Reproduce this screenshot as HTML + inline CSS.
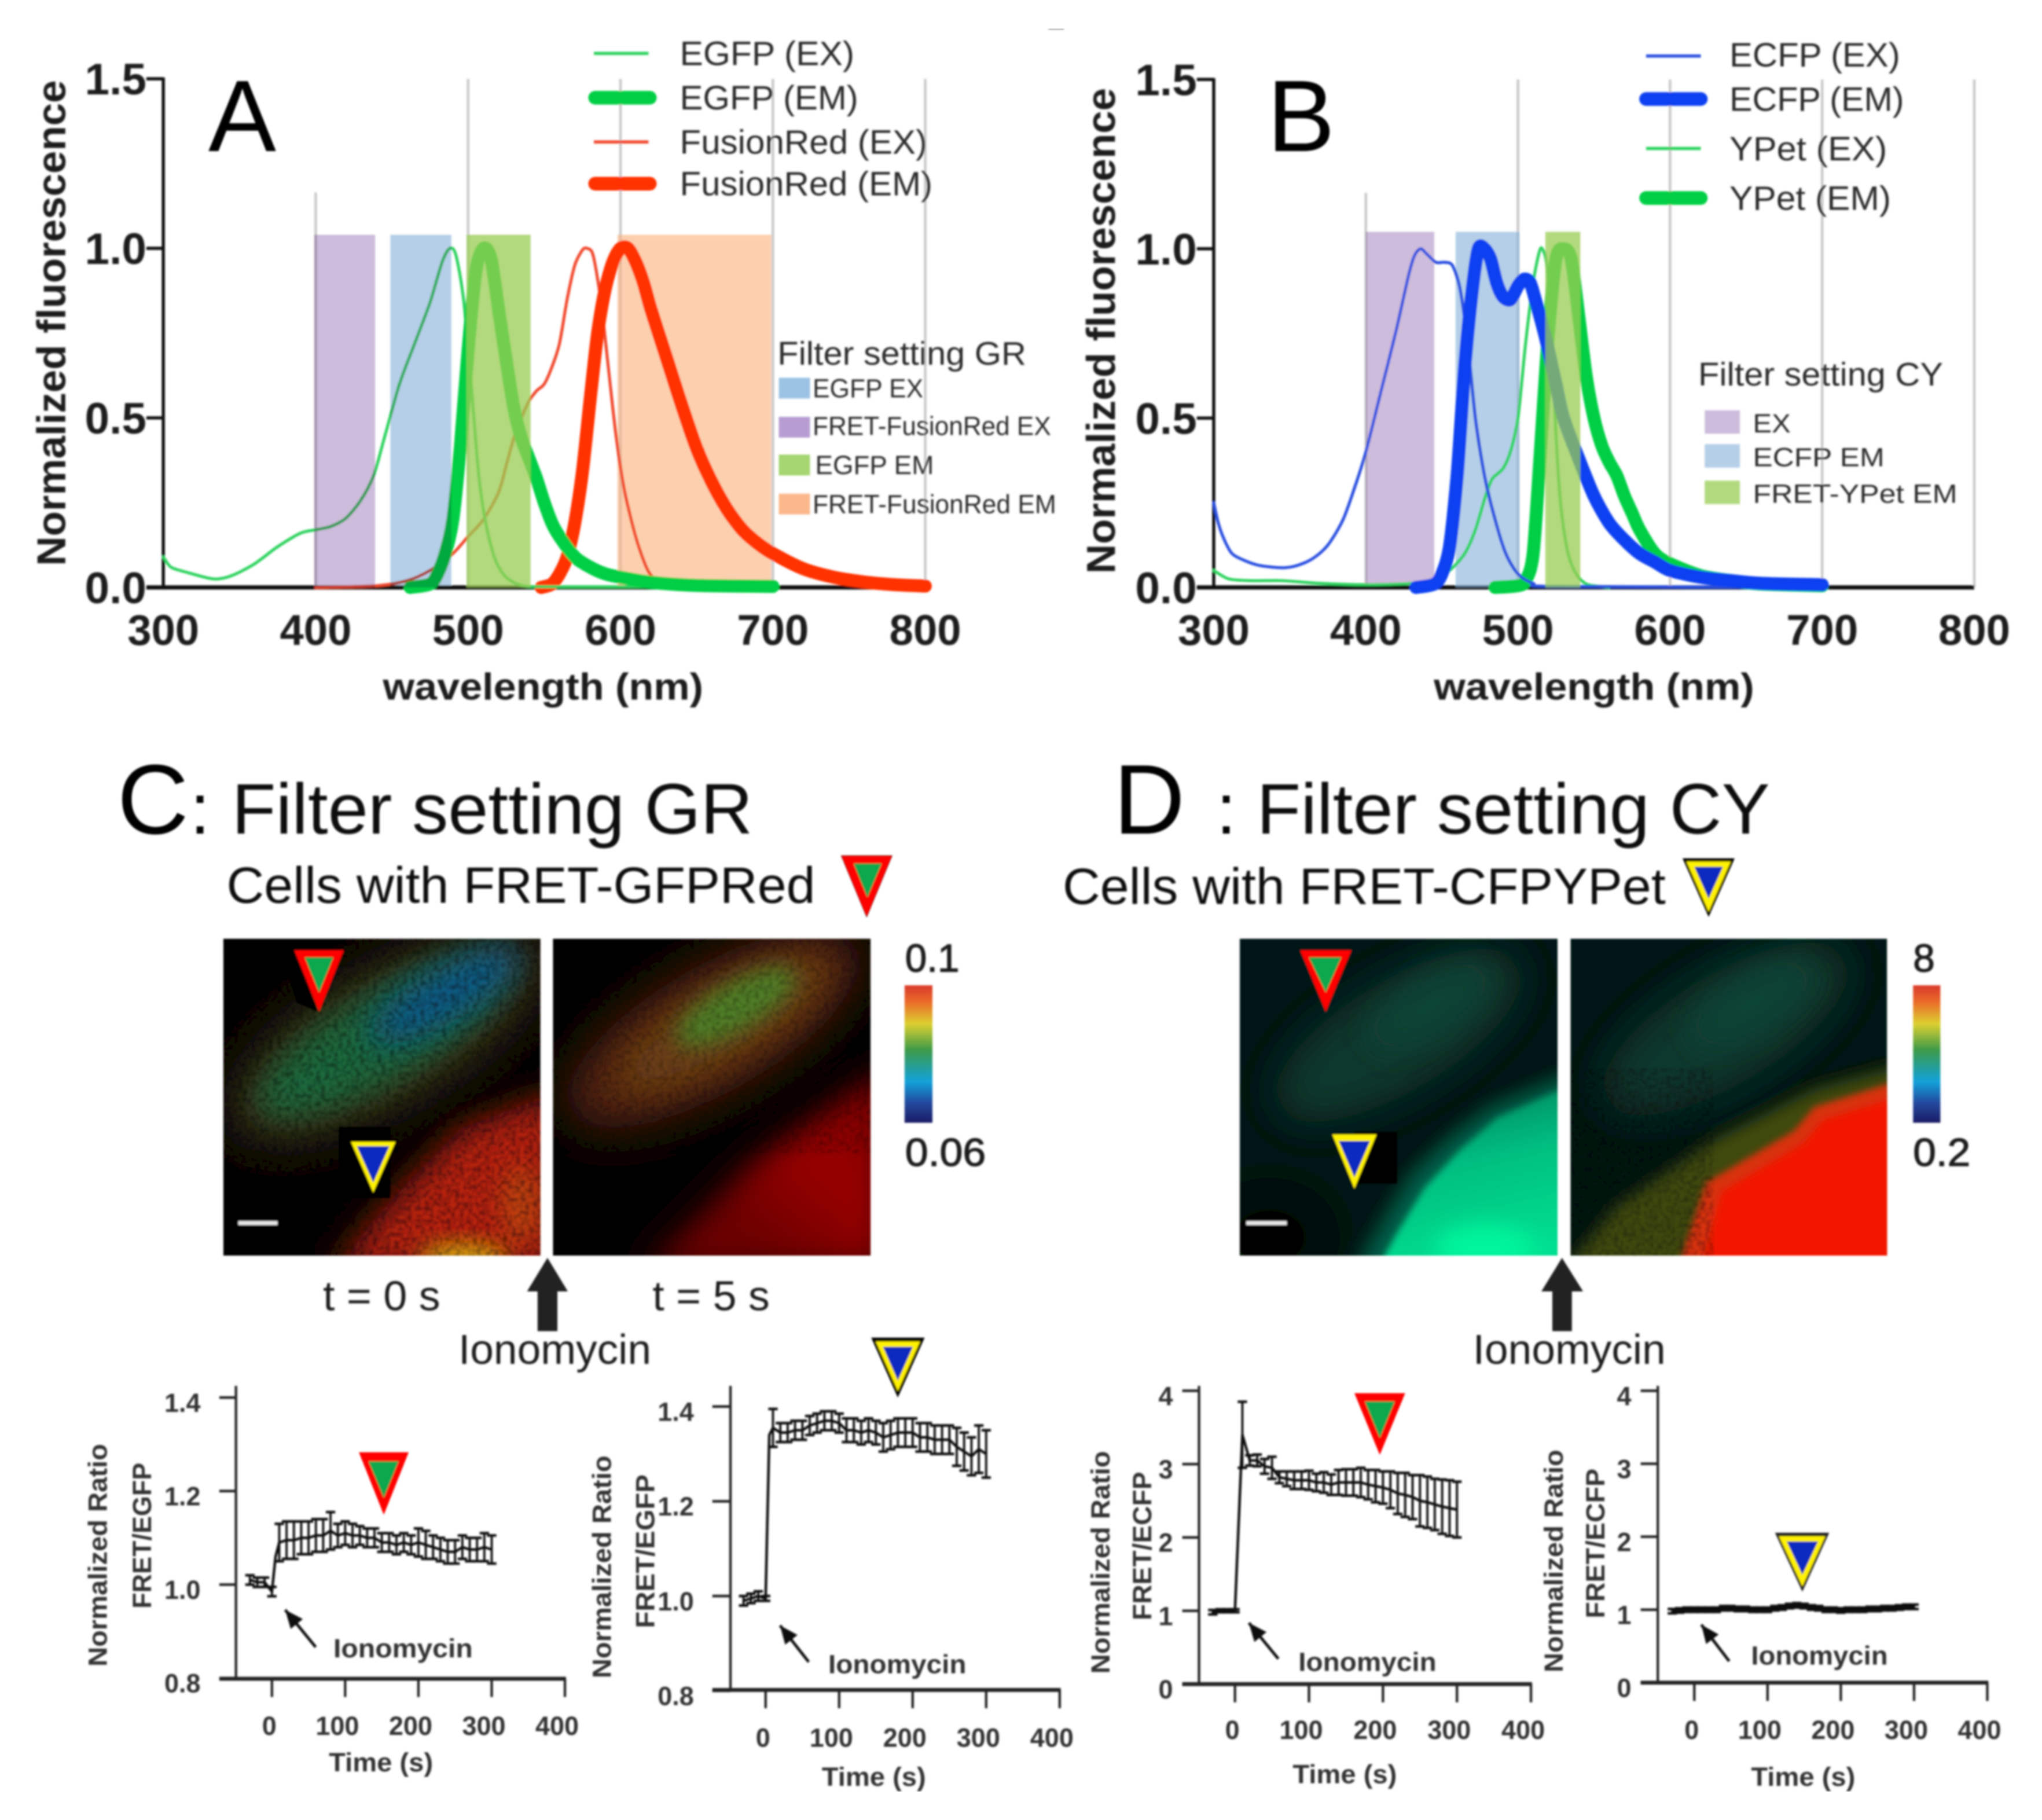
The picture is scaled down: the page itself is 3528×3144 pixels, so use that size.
<!DOCTYPE html>
<html lang="en">
<head>
<meta charset="utf-8">
<title>FRET filter settings figure</title>
<style>
html,body{margin:0;padding:0;background:#fff;}
svg{display:block;}
text{font-family:"Liberation Sans",sans-serif;fill:#1a1a1a;}
.b{font-weight:bold;}
.leg{font-size:26px;fill:#2a2a2a;}
.fl{font-size:20px;fill:#2a2a2a;}
.fh{font-size:25px;fill:#2a2a2a;}
</style>
</head>
<body>
<svg id="fig" xmlns="http://www.w3.org/2000/svg" width="3528" height="3144" viewBox="0 0 1568 1397.33">
<defs>
<filter id="soft" x="0" y="0" width="100%" height="100%" filterUnits="objectBoundingBox"><feGaussianBlur stdDeviation="0.7"/></filter>
<filter id="b2" x="-30%" y="-30%" width="160%" height="160%"><feGaussianBlur stdDeviation="2.5"/></filter>
<filter id="b6" x="-30%" y="-30%" width="160%" height="160%"><feGaussianBlur stdDeviation="6"/></filter>
<filter id="b8" x="-40%" y="-40%" width="180%" height="180%"><feGaussianBlur stdDeviation="8"/></filter>
<filter id="b12" x="-50%" y="-50%" width="200%" height="200%"><feGaussianBlur stdDeviation="12"/></filter>
<filter id="b16" x="-60%" y="-60%" width="220%" height="220%"><feGaussianBlur stdDeviation="16"/></filter>
<filter id="grain" x="0" y="0" width="100%" height="100%" color-interpolation-filters="sRGB"><feTurbulence type="fractalNoise" baseFrequency="0.3" numOctaves="2" seed="4"/><feColorMatrix type="matrix" values="0 0 0 0 0  0 0 0 0 0  0 0 0 0 0  3 0 0 0 -1.2"/><feGaussianBlur stdDeviation="0.5"/></filter>
<clipPath id="clipCL"><rect x="171.5" y="720.7" width="243.5" height="243.3"/></clipPath>
<clipPath id="clipCR"><rect x="424.6" y="720.7" width="243.9" height="243.3"/></clipPath>
<clipPath id="clipDL"><rect x="952" y="720.7" width="244" height="243.3"/></clipPath>
<clipPath id="clipDR"><rect x="1206" y="720.7" width="243" height="243.3"/></clipPath>
<linearGradient id="cbar" x1="0" y1="0" x2="0" y2="1">
<stop offset="0" stop-color="#d93a2c"/><stop offset="0.12" stop-color="#ea6a2a"/><stop offset="0.28" stop-color="#dcd030"/><stop offset="0.47" stop-color="#3d9a48"/><stop offset="0.7" stop-color="#12a2da"/><stop offset="0.86" stop-color="#23479c"/><stop offset="1" stop-color="#1c1c66"/>
</linearGradient>
<linearGradient id="redCellC" x1="0" y1="1" x2="1" y2="0"><stop offset="0.3" stop-color="#6a0400"/><stop offset="0.6" stop-color="#960404"/><stop offset="1" stop-color="#860404"/></linearGradient>
<linearGradient id="tealCell" x1="0.3" y1="0" x2="0.55" y2="1"><stop offset="0" stop-color="#04805a"/><stop offset="0.45" stop-color="#00bf80"/><stop offset="1" stop-color="#00e090"/></linearGradient>
</defs>
<rect x="0" y="0" width="1568" height="1397.33" fill="#ffffff"/>
<g id="root" filter="url(#soft)">
<line x1="805" y1="22" x2="817" y2="22" stroke="#888" stroke-width="1.2"/>

<g id="panelA"></g>
<g id="panelB"></g>

<text x="160" y="116" font-size="78" style="fill:#000">A</text>
<text x="973" y="116" font-size="78" style="fill:#000">B</text>

<g>
<line x1="456" y1="41" x2="498" y2="41" stroke="#2fd35e" stroke-width="2.4"/>
<text class="leg" x="522" y="50" textLength="134" lengthAdjust="spacingAndGlyphs">EGFP (EX)</text>
<line x1="457" y1="75" x2="499" y2="75" stroke="#06cf45" stroke-width="10.5" stroke-linecap="round"/>
<text class="leg" x="522" y="84" textLength="137" lengthAdjust="spacingAndGlyphs">EGFP (EM)</text>
<line x1="456" y1="109" x2="498" y2="109" stroke="#f0482e" stroke-width="2.4"/>
<text class="leg" x="522" y="118" textLength="190" lengthAdjust="spacingAndGlyphs">FusionRed (EX)</text>
<line x1="457" y1="141" x2="499" y2="141" stroke="#ff3000" stroke-width="10.5" stroke-linecap="round"/>
<text class="leg" x="522" y="150" textLength="194" lengthAdjust="spacingAndGlyphs">FusionRed (EM)</text>
</g>
<g>
<text class="fh" x="597" y="280" textLength="191" lengthAdjust="spacingAndGlyphs">Filter setting GR</text>
<rect x="598" y="290" width="24" height="16" fill="#9cc3e4"/>
<text class="fl" x="624" y="305" textLength="85" lengthAdjust="spacingAndGlyphs">EGFP EX</text>
<rect x="598" y="320" width="24" height="16" fill="#b79cd2"/>
<text class="fl" x="624" y="334" textLength="183" lengthAdjust="spacingAndGlyphs">FRET-FusionRed EX</text>
<rect x="598" y="349" width="24" height="16" fill="#a6d671"/>
<text class="fl" x="626" y="364" textLength="91" lengthAdjust="spacingAndGlyphs">EGFP EM</text>
<rect x="598" y="379" width="24" height="16" fill="#fcb88c"/>
<text class="fl" x="624" y="394" textLength="187" lengthAdjust="spacingAndGlyphs">FRET-FusionRed EM</text>
</g>

<g>
<line x1="1264" y1="43" x2="1306" y2="43" stroke="#2a50e0" stroke-width="2.4"/>
<text class="leg" x="1328" y="51" textLength="131" lengthAdjust="spacingAndGlyphs">ECFP (EX)</text>
<line x1="1264" y1="76" x2="1306" y2="76" stroke="#0a40f0" stroke-width="10.5" stroke-linecap="round"/>
<text class="leg" x="1328" y="85" textLength="134" lengthAdjust="spacingAndGlyphs">ECFP (EM)</text>
<line x1="1264" y1="114" x2="1306" y2="114" stroke="#2fd35e" stroke-width="2.4"/>
<text class="leg" x="1328" y="123" textLength="121" lengthAdjust="spacingAndGlyphs">YPet (EX)</text>
<line x1="1264" y1="152" x2="1306" y2="152" stroke="#06cf45" stroke-width="10.5" stroke-linecap="round"/>
<text class="leg" x="1328" y="161" textLength="124" lengthAdjust="spacingAndGlyphs">YPet (EM)</text>
</g>
<g>
<text class="fh" x="1304" y="296" textLength="188" lengthAdjust="spacingAndGlyphs">Filter setting CY</text>
<rect x="1309" y="315" width="27" height="18" fill="#cdbcdc"/>
<text class="fl" x="1346" y="332" textLength="29" lengthAdjust="spacingAndGlyphs">EX</text>
<rect x="1309" y="341" width="27" height="18" fill="#b5cfe8"/>
<text class="fl" x="1346" y="358" textLength="101" lengthAdjust="spacingAndGlyphs">ECFP EM</text>
<rect x="1309" y="369" width="27" height="18" fill="#b2d97e"/>
<text class="fl" x="1346" y="386" textLength="157" lengthAdjust="spacingAndGlyphs">FRET-YPet EM</text>
</g>

<text x="90" y="640" font-size="76" style="fill:#000">C</text>
<text x="146" y="640" font-size="54.7" style="fill:#000">:</text>
<text x="178" y="640" font-size="54.7" textLength="400" lengthAdjust="spacingAndGlyphs" style="fill:#111">Filter setting GR</text>
<text x="174" y="693" font-size="39" textLength="452" lengthAdjust="spacingAndGlyphs" style="fill:#111">Cells with FRET-GFPRed</text>
<g><polygon points="646,657 685,657 665.5,704" fill="#ff0000" stroke="#300" stroke-width="0.4"/><polygon points="655.5,663 677,663 666,689" fill="#0fa84e"/></g>
<text x="855" y="640" font-size="76" style="fill:#000">D</text>
<text x="934" y="640" font-size="54.7" style="fill:#000">:</text>
<text x="965" y="640" font-size="54.7" textLength="394" lengthAdjust="spacingAndGlyphs" style="fill:#111">Filter setting CY</text>
<text x="816" y="694" font-size="39" textLength="463" lengthAdjust="spacingAndGlyphs" style="fill:#111">Cells with FRET-CFPYPet</text>
<g><polygon points="1292,659 1332,659 1312,704" fill="#000"/><polygon points="1295,661.5 1329,661.5 1312,700" fill="#fff200"/><polygon points="1301,665.5 1323,665.5 1312,690" fill="#0a2ac0"/></g>

<g clip-path="url(#clipCL)">
<rect x="171.5" y="720.7" width="243.5" height="243.3" fill="#050302"/>
<ellipse cx="298" cy="795" rx="138" ry="54" transform="rotate(-30 298 795)" fill="#3e3012" filter="url(#b16)"/>
<ellipse cx="292" cy="797" rx="108" ry="34" transform="rotate(-30 292 797)" fill="#1a6a3e" filter="url(#b12)"/>
<ellipse cx="342" cy="764" rx="66" ry="21" transform="rotate(-30 342 764)" fill="#0e5a88" filter="url(#b12)"/>
<polygon points="430,838 354,866 303,918 255,975 430,975" fill="#b8220c" filter="url(#b12)"/>
<ellipse cx="356" cy="966" rx="34" ry="12" fill="#d8a410" filter="url(#b8)"/>
<ellipse cx="400" cy="925" rx="16" ry="30" fill="#c85a10" opacity="0.55" filter="url(#b8)"/>
<rect x="171.5" y="720.7" width="243.5" height="243.3" filter="url(#grain)" opacity="0.42"/>
<polygon points="216,732 226,729 244,777 228,770" fill="#000"/>
<rect x="260" y="865" width="40" height="55" fill="#000"/>
<polygon points="226,729.6 264,729.6 245,776.7" fill="#ff0000"/>
<polygon points="234,735 256,735 245,762" fill="#0fa84e"/>
<polygon points="269.5,876.6 303.7,876.6 286.6,915.6" fill="#fff200"/>
<polygon points="274,880 299,880 286.6,908" fill="#0a2ac0"/>
<rect x="183" y="937.5" width="30" height="3" fill="#e8e8e8"/>
</g>
<g clip-path="url(#clipCR)">
<rect x="424.6" y="720.7" width="243.9" height="243.3" fill="#040201"/>
<ellipse cx="548" cy="790" rx="128" ry="48" transform="rotate(-30 548 790)" fill="#582810" filter="url(#b16)"/>
<ellipse cx="555" cy="786" rx="90" ry="28" transform="rotate(-30 555 786)" fill="#6e4214" filter="url(#b12)"/>
<ellipse cx="565" cy="773" rx="52" ry="18" transform="rotate(-30 565 773)" fill="#4f8028" filter="url(#b8)"/>
<polygon points="680,820 580,890 495,975 680,975" fill="url(#redCellC)" filter="url(#b12)"/>
<rect x="424.6" y="720.7" width="243.9" height="165" filter="url(#grain)" opacity="0.28"/>
</g>
<g clip-path="url(#clipDL)">
<rect x="952" y="720.7" width="244" height="243.3" fill="#021412"/>
<ellipse cx="1074" cy="795" rx="108" ry="42" transform="rotate(-31 1074 795)" fill="#09382e" filter="url(#b16)"/>
<ellipse cx="1098" cy="772" rx="52" ry="20" transform="rotate(-31 1098 772)" fill="#0b4436" filter="url(#b12)"/>
<ellipse cx="975" cy="950" rx="40" ry="30" fill="#000" filter="url(#b16)"/>
<polygon points="1210,822 1143,850 1113,873 1084,900 1055,948 1040,975 1210,975" fill="#066048" filter="url(#b8)"/>
<polygon points="1200,836 1150,858 1120,884 1094,912 1072,948 1060,970 1200,970" fill="url(#tealCell)" filter="url(#b2)"/>
<ellipse cx="1140" cy="958" rx="38" ry="18" fill="#00f59c" filter="url(#b8)"/>
<polygon points="998.4,729.6 1037.7,729.6 1018,776.7" fill="#ff0000"/>
<polygon points="1005,735 1030,735 1018,762" fill="#0fa84e"/>
<rect x="1040" y="869" width="33" height="40" fill="#000"/>
<polygon points="1023,871 1057,871 1040,912.6" fill="#fff200"/>
<polygon points="1028,876 1052,876 1040,904" fill="#0a2ac0"/>
<rect x="957" y="937.5" width="31" height="3" fill="#e8e8e8"/>
</g>
<g clip-path="url(#clipDR)">
<rect x="1206" y="720.7" width="243" height="243.3" fill="#021612"/>
<ellipse cx="1325" cy="790" rx="108" ry="42" transform="rotate(-31 1325 790)" fill="#09382e" filter="url(#b16)"/>
<ellipse cx="1345" cy="770" rx="52" ry="20" transform="rotate(-31 1345 770)" fill="#0b4436" filter="url(#b12)"/>
<polygon points="1470,815 1393,836 1314,876 1241,926 1200,975 1470,975" fill="#3f4a10" filter="url(#b6)"/>
<polygon points="1470,826 1393,850 1378,868 1310,908 1288,975 1470,975" fill="#d8300a" filter="url(#b2)"/>
<polygon points="1470,838 1400,860 1385,878 1322,915 1306,975 1470,975" fill="#f21205" filter="url(#b2)"/>
<rect x="1206" y="820" width="110" height="144" filter="url(#grain)" opacity="0.3"/>
</g>

<g>
<rect x="694.6" y="756.5" width="21.4" height="105.5" fill="url(#cbar)"/>
<text x="695" y="746" font-size="30" stroke="#222" stroke-width="0.6">0.1</text>
<text x="695" y="895" font-size="30" textLength="62" lengthAdjust="spacingAndGlyphs" stroke="#222" stroke-width="0.6">0.06</text>
</g>
<g>
<rect x="1469" y="756.5" width="21" height="105.5" fill="url(#cbar)"/>
<text x="1469" y="746" font-size="30" stroke="#222" stroke-width="0.6">8</text>
<text x="1469" y="895" font-size="30" textLength="44" lengthAdjust="spacingAndGlyphs" stroke="#222" stroke-width="0.6">0.2</text>
</g>

<text x="248" y="1006" font-size="32" textLength="90" lengthAdjust="spacingAndGlyphs">t = 0 s</text>
<text x="501" y="1006" font-size="32" textLength="90" lengthAdjust="spacingAndGlyphs">t = 5 s</text>
<polygon points="420.4,965.7 436,991.5 428,991.5 428,1022 412.8,1022 412.8,991.5 404.7,991.5" fill="#222"/>
<polygon points="1199.4,965.7 1215.6,991.5 1207,991.5 1207,1022 1192,1022 1192,991.5 1183.6,991.5" fill="#222"/>
<text x="352" y="1047" font-size="32" textLength="148" lengthAdjust="spacingAndGlyphs">Ionomycin</text>
<text x="1131" y="1047" font-size="32" textLength="148" lengthAdjust="spacingAndGlyphs">Ionomycin</text>

<g id="ts1"></g>
<g id="ts2"></g>
<g id="ts3"></g>
<g id="ts4"></g>

<g><polygon points="275.6,1115 313.8,1115 294.7,1163" fill="#ff0000"/><polygon points="283,1122 306,1122 294.7,1150" fill="#0fa84e"/></g>
<g><polygon points="669,1027 710,1027 689.4,1073" fill="#000"/><polygon points="672.5,1030 706.5,1030 689.4,1068" fill="#fff200"/><polygon points="678,1034 701,1034 689.4,1060" fill="#0a2ac0"/></g>
<g><polygon points="1040,1069.6 1079,1069.6 1059.5,1117" fill="#ff0000"/><polygon points="1048,1076 1071,1076 1059.5,1104" fill="#0fa84e"/></g>
<g><polygon points="1363,1176.8 1404.6,1176.8 1384,1222" fill="#222"/><polygon points="1366,1179.5 1401.6,1179.5 1384,1218" fill="#fff200"/><polygon points="1372,1183.5 1396,1183.5 1384,1209" fill="#0a2ac0"/></g>
</g>
</svg>
<script>
// ---------- Spectra data ----------
const spectraTicksX = [300, 400, 500, 600, 700, 800];
const spectraTicksY = [0, 0.5, 1.0, 1.5];

const egfpExW = [300,305,315,333,345,360,375,390,400,410,420,430,438,445,455,465,475,483,488,492,497,502,507,512,518,525,535,550,600,700];
const egfpExV = [0.09,0.06,0.045,0.025,0.035,0.07,0.12,0.16,0.17,0.18,0.205,0.26,0.33,0.44,0.6,0.72,0.84,0.96,1.0,0.98,0.85,0.6,0.33,0.18,0.08,0.03,0.006,0.002,0.002,0.002];
const egfpEmW = [462,475,480,485,490,495,500,505,510,515,520,525,530,535,540,545,550,555,560,570,580,590,600,620,650,700];
const egfpEmV = [0,0.01,0.04,0.1,0.2,0.42,0.7,0.93,1.0,0.97,0.82,0.67,0.53,0.44,0.38,0.32,0.25,0.19,0.15,0.09,0.06,0.04,0.03,0.015,0.006,0.003];
const fusionExW = [400,440,460,475,490,500,510,520,525,530,535,540,545,550,555,560,565,570,575,578,582,587,592,597,602,607,612,618,625,630];
const fusionExV = [0,0.005,0.02,0.05,0.1,0.15,0.2,0.28,0.36,0.44,0.5,0.55,0.58,0.6,0.65,0.72,0.85,0.95,0.995,1.0,0.98,0.85,0.65,0.45,0.3,0.2,0.12,0.05,0.01,0];
const fusionEmW = [548,555,560,565,570,575,580,585,590,595,600,605,610,615,620,630,640,650,660,670,680,690,700,720,740,760,780,800];
const fusionEmV = [0,0.01,0.04,0.09,0.19,0.34,0.55,0.75,0.88,0.96,1.0,1.0,0.96,0.9,0.82,0.68,0.54,0.41,0.31,0.23,0.17,0.13,0.1,0.055,0.03,0.016,0.008,0.004];

const ecfpExW = [300,303,307,312,320,330,345,355,365,375,385,393,400,410,420,428,432,436,440,446,452,457,462,467,472,478,485,492,500,510,525,700];
const ecfpExV = [0.25,0.19,0.14,0.1,0.08,0.065,0.058,0.065,0.085,0.125,0.2,0.3,0.4,0.58,0.76,0.92,0.98,1.0,0.985,0.96,0.96,0.95,0.88,0.72,0.5,0.33,0.2,0.1,0.04,0.012,0.003,0.001];
const ecfpEmW = [433,445,450,455,460,465,470,474,478,482,486,490,495,500,504,508,512,518,525,530,540,550,560,570,580,590,600,620,640,660,700];
const ecfpEmV = [0,0.01,0.04,0.12,0.33,0.65,0.88,1.0,1.0,0.97,0.9,0.86,0.85,0.89,0.91,0.9,0.84,0.74,0.6,0.5,0.38,0.27,0.19,0.14,0.1,0.075,0.05,0.03,0.02,0.012,0.008];
const ypetExW = [300,310,325,345,370,400,430,445,455,465,472,478,483,490,495,500,505,510,514,516,519,522,525,528,532,537,545,560];
const ypetExV = [0.05,0.025,0.02,0.02,0.012,0.008,0.012,0.025,0.05,0.1,0.17,0.26,0.32,0.35,0.4,0.5,0.72,0.9,0.99,1.0,0.95,0.75,0.45,0.25,0.12,0.05,0.01,0];
const ypetEmW = [485,500,505,510,515,520,525,530,535,540,545,550,555,560,565,570,575,580,590,600,620,640,660,700];
const ypetEmV = [0,0.005,0.02,0.1,0.42,0.75,0.97,1.0,0.97,0.8,0.62,0.5,0.42,0.37,0.33,0.27,0.22,0.17,0.1,0.07,0.035,0.02,0.01,0.005];

// filter band edges (nm) and height
const gfpBandPurple = [399, 439];
const gfpBandBlue = [449, 489];
const gfpBandGreen = [499, 541];
const gfpBandOrange = [598, 699];
const gfpBandTop = 1.04;
const cfpBandPurple = [400, 445];
const cfpBandBlue = [459, 501];
const cfpBandGreen = [518, 541];
const cfpBandTop = 1.05;

// ---------- Time-course data ----------
const timeTicks = [0, 100, 200, 300, 400];
const gfpRatioTicks = [0.8, 1.0, 1.2, 1.4];
const cfpRatioTicks = [0, 1, 2, 3, 4];

const ts1T = [-30,-20,-10,0,5,10,20,30,40,50,60,70,80,90,100,110,120,130,140,150,160,170,180,190,200,210,220,230,240,250,260,270,280,290,300];
const ts1M = [1.01,1.005,1.005,0.985,1.06,1.09,1.095,1.095,1.10,1.10,1.105,1.105,1.115,1.105,1.11,1.105,1.105,1.10,1.10,1.09,1.09,1.085,1.09,1.085,1.09,1.085,1.08,1.075,1.07,1.07,1.08,1.075,1.075,1.08,1.075];
const ts1E = [0.01,0.01,0.01,0.01,0,0.04,0.04,0.04,0.035,0.035,0.035,0.035,0.04,0.025,0.025,0.025,0.02,0.02,0.02,0.02,0.02,0.02,0.02,0.02,0.03,0.03,0.025,0.025,0.025,0.025,0.025,0.025,0.025,0.03,0.03];

const ts2T = [-30,-20,-10,0,5,10,20,30,40,50,60,70,80,90,100,110,120,130,140,150,160,170,180,190,200,210,220,230,240,250,260,270,280,290,300];
const ts2M = [0.99,0.995,1.0,0.995,1.34,1.355,1.345,1.345,1.35,1.35,1.36,1.365,1.37,1.37,1.365,1.35,1.35,1.345,1.35,1.345,1.335,1.34,1.345,1.345,1.345,1.335,1.335,1.33,1.33,1.33,1.315,1.305,1.295,1.31,1.30];
const ts2E = [0.01,0.01,0.01,0.005,0,0.04,0.02,0.02,0.02,0.02,0.02,0.02,0.02,0.02,0.02,0.025,0.025,0.025,0.025,0.025,0.03,0.03,0.03,0.03,0.03,0.03,0.03,0.03,0.03,0.03,0.04,0.04,0.04,0.05,0.05];

const ts3T = [-30,-20,-10,0,10,20,30,40,50,60,70,80,90,100,110,120,130,140,150,160,170,180,190,200,210,220,230,240,250,260,270,280,290,300];
const ts3M = [0.98,1,1,1,3.4,3.05,3.05,2.97,2.95,2.82,2.8,2.78,2.78,2.78,2.75,2.75,2.72,2.75,2.75,2.75,2.75,2.72,2.7,2.68,2.65,2.6,2.58,2.55,2.5,2.48,2.45,2.42,2.4,2.38];
const ts3E = [0.03,0.02,0.02,0.02,0.45,0.07,0.08,0.1,0.15,0.08,0.1,0.12,0.12,0.13,0.12,0.14,0.14,0.17,0.18,0.18,0.2,0.2,0.22,0.22,0.25,0.28,0.3,0.3,0.35,0.35,0.35,0.37,0.38,0.38];

const ts4T = [-30,-20,-10,0,10,20,30,40,50,60,70,80,90,100,110,120,130,140,150,160,170,180,190,200,210,220,230,240,250,260,270,280,290,300];
const ts4M = [0.98,0.99,1.0,1.0,1.0,1.0,1.0,1.02,1.02,1.01,1.01,1.0,1.0,1.0,1.02,1.03,1.05,1.06,1.05,1.03,1.02,1.0,1.0,0.99,1.0,1.0,1.0,1.01,1.01,1.02,1.02,1.03,1.04,1.04];
const ts4E = [0.03,0.03,0.03,0.03,0.03,0.03,0.03,0.03,0.03,0.03,0.03,0.03,0.03,0.03,0.03,0.03,0.03,0.03,0.03,0.03,0.03,0.03,0.03,0.03,0.03,0.03,0.03,0.03,0.03,0.03,0.03,0.03,0.03,0.03];

// ---------- Helpers ----------
const NS = 'http://www.w3.org/2000/svg';
function mk(parent, tag, attrs, name) {
  const el = document.createElementNS(NS, tag);
  for (const k in attrs) el.setAttribute(k, attrs[k]);
  
  
  parent.appendChild(el);
  return el;
}
function txt(parent, s, attrs, name) {
  const el = mk(parent, 'text', attrs, name);
  el.textContent = s;
  return el;
}
function linear(d0, d1, r0, r1) {
  return function (v) { return r0 + (v - d0) * (r1 - r0) / (d1 - d0); };
}
function smoothPath(xs, ys) {
  let d = 'M' + xs[0].toFixed(2) + ' ' + ys[0].toFixed(2);
  const n = xs.length, t = 0.14;
  for (let i = 0; i < n - 1; i++) {
    const p0 = Math.max(i - 1, 0), p3 = Math.min(i + 2, n - 1);
    const c1x = xs[i] + (xs[i + 1] - xs[p0]) * t;
    const c1y = ys[i] + (ys[i + 1] - ys[p0]) * t;
    const c2x = xs[i + 1] - (xs[p3] - xs[i]) * t;
    const c2y = ys[i + 1] - (ys[p3] - ys[i]) * t;
    d += ' C' + c1x.toFixed(2) + ' ' + c1y.toFixed(2) + ' ' + c2x.toFixed(2) + ' ' + c2y.toFixed(2) + ' ' + xs[i + 1].toFixed(2) + ' ' + ys[i + 1].toFixed(2);
  }
  return d;
}

// ---------- Spectra panels ----------
function spectraGrid(g, x, y, firstGridTop) {
  spectraTicksX.slice(1).forEach(function (t, i) {
    const top = (i === 0) ? y(firstGridTop) : y(1.5);
    mk(g, 'line', { x1: x(t), x2: x(t), y1: top, y2: y(0), stroke: '#c9c9c9', 'stroke-width': 2 }, 'gridline-' + t);
  });
}
function spectraFrame(g, x, y, titleX, titleCenter, xTitleX) {
  mk(g, 'line', { x1: x(300), x2: x(300), y1: y(1.5) - 1, y2: y(0) + 1.5, stroke: '#111', 'stroke-width': 2.4 }, 'y-axis');
  mk(g, 'line', { x1: x(300) - 13, x2: x(800), y1: y(0), y2: y(0), stroke: '#111', 'stroke-width': 3.2 }, 'x-axis');
  spectraTicksY.forEach(function (t) {
    mk(g, 'line', { x1: x(300) - 13, x2: x(300), y1: y(t), y2: y(t), stroke: '#111', 'stroke-width': 2.4 }, 'y-tick-' + t);
    txt(g, t.toFixed(1), { x: x(300) - 13, y: y(t) + 12, 'text-anchor': 'end', 'font-size': 34, class: 'b' }, 'y-tick-label-' + t);
  });
  spectraTicksX.forEach(function (t) {
    txt(g, String(t), { x: x(t), y: 495, 'text-anchor': 'middle', 'font-size': 33, class: 'b' }, 'x-tick-label-' + t);
  });
  txt(g, 'wavelength (nm)', { x: xTitleX, y: 537, 'font-size': 29, class: 'b', textLength: 246, lengthAdjust: 'spacingAndGlyphs' }, 'x-axis-title');
  txt(g, 'Normalized fluorescence', { x: 0, y: 0, transform: 'translate(' + titleX + ' ' + titleCenter + ') rotate(-90)', 'text-anchor': 'middle', 'font-size': 31, class: 'b', textLength: 373, lengthAdjust: 'spacingAndGlyphs' }, 'y-axis-title');
}
function curve(g, x, y, ws, vs, color, width, name) {
  mk(g, 'path', { d: smoothPath(ws.map(x), vs.map(y)), fill: 'none', stroke: color, 'stroke-width': width, 'stroke-linecap': 'round', 'stroke-linejoin': 'round' }, name);
}
function band(g, x, y, edges, top, color, alpha, name) {
  mk(g, 'rect', { x: x(edges[0]), y: y(top), width: x(edges[1]) - x(edges[0]), height: y(0) - y(top), fill: color, 'fill-opacity': alpha }, name);
}
function bandMultiply(g, x, y, edges, top, color, name) {
  mk(g, 'rect', { x: x(edges[0]), y: y(top), width: x(edges[1]) - x(edges[0]), height: y(0) - y(top), fill: color, style: 'mix-blend-mode:multiply' }, name);
}

const gA = document.getElementById('panelA');
const xA = linear(300, 800, 125.4, 710.5);
const yA = linear(0, 1.5, 451, 60.5);
spectraGrid(gA, xA, yA, 1.165);
spectraFrame(gA, xA, yA, 50, 248, 294);
band(gA, xA, yA, gfpBandOrange, gfpBandTop, '#fab17b', 0.6, 'band-fret-fusionred-em');
curve(gA, xA, yA, fusionExW, fusionExV, '#f0482e', 2.3, 'curve-fusionred-ex');
curve(gA, xA, yA, fusionEmW, fusionEmV, '#ff3000', 10, 'curve-fusionred-em');
curve(gA, xA, yA, egfpExW, egfpExV, '#2fd35e', 2.3, 'curve-egfp-ex');
curve(gA, xA, yA, egfpEmW, egfpEmV, '#06cf45', 10, 'curve-egfp-em');
bandMultiply(gA, xA, yA, gfpBandPurple, gfpBandTop, '#cdbcdc', 'band-fret-fusionred-ex');
bandMultiply(gA, xA, yA, gfpBandBlue, gfpBandTop, '#b5cfe8', 'band-egfp-ex');
band(gA, xA, yA, gfpBandGreen, gfpBandTop, '#98cc53', 0.75, 'band-egfp-em');

const gB = document.getElementById('panelB');
const xB = linear(300, 800, 932, 1516);
const yB = linear(0, 1.5, 451, 61);
spectraGrid(gB, xB, yB, 1.165);
spectraFrame(gB, xB, yB, 856, 254, 1101);
band(gB, xB, yB, cfpBandBlue, cfpBandTop, '#84afd9', 0.6, 'band-ecfp-em');
bandMultiply(gB, xB, yB, cfpBandPurple, cfpBandTop, '#cdbcdc', 'band-ex');
curve(gB, xB, yB, ypetExW, ypetExV, '#2fd35e', 2.3, 'curve-ypet-ex');
curve(gB, xB, yB, ypetEmW, ypetEmV, '#06cf45', 10, 'curve-ypet-em');
curve(gB, xB, yB, ecfpExW, ecfpExV, '#2a50e0', 2.3, 'curve-ecfp-ex');
curve(gB, xB, yB, ecfpEmW, ecfpEmV, '#0a40f0', 10, 'curve-ecfp-em');
band(gB, xB, yB, cfpBandGreen, cfpBandTop, '#98cc53', 0.75, 'band-fret-ypet-em');

// ---------- Time-course panels ----------
function timeCourse(id, x, y, yTicks, fmt, ts, ms, es, lay) {
  const g = document.getElementById(id);
  const x0 = lay.axisX, bottom = lay.axisBottom;
  mk(g, 'line', { x1: x0, x2: x0, y1: 1064, y2: bottom, stroke: '#222', 'stroke-width': 1.9 }, 'y-axis');
  mk(g, 'line', { x1: lay.tickLeft, x2: x(400) + 0.8, y1: bottom, y2: bottom, stroke: '#222', 'stroke-width': 3 }, 'x-axis');
  yTicks.forEach(function (t) {
    mk(g, 'line', { x1: lay.tickLeft, x2: x0, y1: y(t), y2: y(t), stroke: '#222', 'stroke-width': 2 }, 'y-tick-' + t);
    txt(g, fmt(t), { x: lay.labelRight, y: y(t) + 11, 'text-anchor': 'end', 'font-size': 20, class: 'b', style: 'fill:#333' }, 'y-tick-label-' + t);
  });
  timeTicks.forEach(function (t) {
    mk(g, 'line', { x1: x(t), x2: x(t), y1: bottom, y2: bottom + 14, stroke: '#222', 'stroke-width': 1.9 }, 'x-tick-' + t);
    txt(g, String(t), { x: x(t) - (t === 0 ? 2 : 6), y: lay.xLabelY, 'text-anchor': 'middle', 'font-size': 20, class: 'b', style: 'fill:#333' }, 'x-tick-label-' + t);
  });
  txt(g, 'Time (s)', { x: lay.timeX, y: lay.timeY, 'font-size': 20, class: 'b', textLength: 80, lengthAdjust: 'spacingAndGlyphs', style: 'fill:#333' }, 'x-axis-title');
  txt(g, 'Normalized Ratio', { x: 0, y: 0, transform: 'translate(' + lay.t1X + ' ' + lay.t1C + ') rotate(-90)', 'text-anchor': 'middle', 'font-size': 20, class: 'b', textLength: 171, lengthAdjust: 'spacingAndGlyphs', style: 'fill:#333' }, 'y-axis-title-ratio');
  txt(g, lay.t2, { x: 0, y: 0, transform: 'translate(' + lay.t2X + ' ' + lay.t2C + ') rotate(-90)', 'text-anchor': 'middle', 'font-size': 20, class: 'b', textLength: lay.t2L, lengthAdjust: 'spacingAndGlyphs', style: 'fill:#333' }, 'y-axis-title-channel');
  // data
  mk(g, 'polyline', { points: ts.map(function (t, i) { return x(t).toFixed(2) + ',' + y(ms[i]).toFixed(2); }).join(' '), fill: 'none', stroke: '#111', 'stroke-width': lay.lineW }, 'mean-line');
  ts.forEach(function (t, i) {
    if (es[i] <= 0) return;
    const px = x(t), hi = y(ms[i] + es[i]), lo = y(ms[i] - es[i]);
    mk(g, 'line', { x1: px, x2: px, y1: hi, y2: lo, stroke: '#111', 'stroke-width': 1.7 }, 'error-bar');
    mk(g, 'line', { x1: px - 3.6, x2: px + 3.6, y1: hi, y2: hi, stroke: '#111', 'stroke-width': 2 }, 'error-cap-top');
    mk(g, 'line', { x1: px - 3.6, x2: px + 3.6, y1: lo, y2: lo, stroke: '#111', 'stroke-width': 2 }, 'error-cap-bottom');
  });
  // ionomycin annotation
  mk(g, 'line', { x1: lay.a[0], y1: lay.a[1], x2: lay.a[2], y2: lay.a[3], stroke: '#111', 'stroke-width': 2.2 }, 'ionomycin-arrow-shaft');
  const dx = lay.a[2] - lay.a[0], dy = lay.a[3] - lay.a[1], L = Math.sqrt(dx * dx + dy * dy);
  const ux = dx / L, uy = dy / L, bx = lay.a[2] - ux * 14, by = lay.a[3] - uy * 14;
  mk(g, 'polygon', { points: lay.a[2] + ',' + lay.a[3] + ' ' + (bx - uy * 6) + ',' + (by + ux * 6) + ' ' + (bx + uy * 6) + ',' + (by - ux * 6), fill: '#111' }, 'ionomycin-arrow-head');
  txt(g, 'Ionomycin', { x: lay.ionX, y: lay.ionY, 'font-size': 20, class: 'b', textLength: lay.ionL, lengthAdjust: 'spacingAndGlyphs', style: 'fill:#333' }, 'ionomycin-label');
}
const fmt1 = function (t) { return t.toFixed(1); };
const fmt0 = function (t) { return String(t); };

timeCourse('ts1', linear(0, 400, 208.8, 433.8), linear(1.0, 1.4, 1216.6, 1073), gfpRatioTicks, fmt1, ts1T, ts1M, ts1E,
  { axisX: 181.2, axisBottom: 1288.9, tickLeft: 168.4, labelRight: 154, xLabelY: 1332, timeX: 252.5, timeY: 1360, t1X: 82, t1C: 1194, t2: 'FRET/EGFP', t2X: 116, t2C: 1179, t2L: 112, lineW: 2, a: [242.4, 1264.6, 219, 1236], ionX: 256, ionY: 1272.5, ionL: 107 });
timeCourse('ts2', linear(0, 400, 587.9, 813.7), linear(1.0, 1.4, 1225.4, 1079.9), gfpRatioTicks, fmt1, ts2T, ts2M, ts2E,
  { axisX: 560.9, axisBottom: 1297.5, tickLeft: 547, labelRight: 532.8, xLabelY: 1341, timeX: 631, timeY: 1371, t1X: 469, t1C: 1203, t2: 'FRET/EGFP', t2X: 502.5, t2C: 1191, t2L: 118, lineW: 2, a: [621, 1276, 599, 1248], ionX: 636, ionY: 1284.6, ionL: 106 });
timeCourse('ts3', linear(0, 400, 948.3, 1175.6), linear(0, 4, 1293, 1067.8), cfpRatioTicks, fmt0, ts3T, ts3M, ts3E,
  { axisX: 920.7, axisBottom: 1293, tickLeft: 907.8, labelRight: 900.7, xLabelY: 1335, timeX: 992.6, timeY: 1369, t1X: 852, t1C: 1199.5, t2: 'FRET/ECFP', t2X: 884, t2C: 1187, t2L: 114, lineW: 2, a: [981.6, 1273.6, 959, 1246], ionX: 997, ionY: 1282.8, ionL: 106 });
timeCourse('ts4', linear(0, 400, 1301, 1526), linear(0, 4, 1291.9, 1067.8), cfpRatioTicks, fmt0, ts4T, ts4M, ts4E,
  { axisX: 1273, axisBottom: 1291.9, tickLeft: 1259.8, labelRight: 1252.7, xLabelY: 1335, timeX: 1344.6, timeY: 1371, t1X: 1200, t1C: 1198.5, t2: 'FRET/ECFP', t2X: 1232, t2C: 1185, t2L: 115, lineW: 4.2, a: [1327.8, 1275.4, 1306.4, 1247.4], ionX: 1344.6, ionY: 1277.9, ionL: 105 });
</script>
</body>
</html>
